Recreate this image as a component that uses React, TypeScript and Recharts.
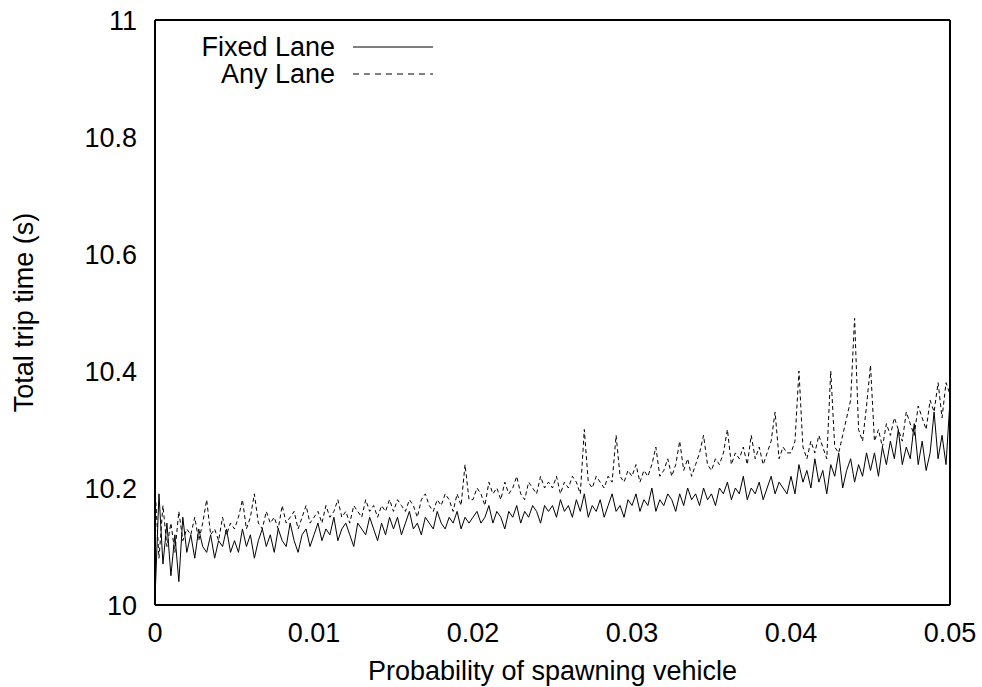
import React from 'react'
import { LineChart, Line, XAxis, YAxis } from 'recharts'

// sampling grid of the spawn probability
const xStep = 0.00025

const fixedLane = [
  10.01, 10.19, 10.07, 10.14, 10.05, 10.12, 10.04, 10.15, 10.09, 10.12, 10.08, 10.13, 10.10, 10.09, 10.12, 10.08, 10.11, 10.10, 10.13, 10.09,
  10.11, 10.09, 10.13, 10.10, 10.12, 10.08, 10.11, 10.13, 10.10, 10.12, 10.09, 10.13, 10.11, 10.10, 10.14, 10.11, 10.09, 10.12, 10.13, 10.10,
  10.12, 10.14, 10.11, 10.13, 10.12, 10.15, 10.11, 10.13, 10.14, 10.12, 10.10, 10.14, 10.13, 10.12, 10.15, 10.13, 10.11, 10.14, 10.12, 10.15,
  10.13, 10.15, 10.12, 10.14, 10.16, 10.13, 10.14, 10.12, 10.15, 10.14, 10.13, 10.16, 10.14, 10.13, 10.15, 10.14, 10.16, 10.13, 10.15, 10.14,
  10.15, 10.16, 10.14, 10.15, 10.17, 10.14, 10.16, 10.15, 10.13, 10.16, 10.15, 10.17, 10.14, 10.16, 10.15, 10.17, 10.16, 10.14, 10.17, 10.16,
  10.17, 10.15, 10.18, 10.16, 10.17, 10.15, 10.18, 10.16, 10.19, 10.15, 10.17, 10.16, 10.18, 10.15, 10.17, 10.19, 10.16, 10.17, 10.15, 10.18,
  10.17, 10.19, 10.16, 10.18, 10.17, 10.20, 10.16, 10.18, 10.17, 10.19, 10.18, 10.16, 10.19, 10.17, 10.20, 10.18, 10.19, 10.17, 10.20, 10.18,
  10.19, 10.17, 10.20, 10.19, 10.21, 10.18, 10.20, 10.19, 10.22, 10.18, 10.20, 10.19, 10.21, 10.18, 10.20, 10.22, 10.19, 10.21, 10.20, 10.19,
  10.22, 10.19, 10.24, 10.21, 10.23, 10.20, 10.25, 10.21, 10.23, 10.19, 10.24, 10.22, 10.26, 10.20, 10.23, 10.25, 10.21, 10.24, 10.22, 10.26,
  10.23, 10.26, 10.22, 10.27, 10.24, 10.28, 10.25, 10.30, 10.24, 10.27, 10.25, 10.31, 10.24, 10.28, 10.23, 10.26, 10.33, 10.25, 10.29, 10.24,
  10.35,
]

const anyLane = [
  10.20, 10.08, 10.17, 10.10, 10.14, 10.09, 10.16, 10.11, 10.13, 10.12, 10.15, 10.11, 10.14, 10.18, 10.12, 10.13, 10.11, 10.15, 10.12, 10.14,
  10.13, 10.15, 10.18, 10.13, 10.15, 10.19, 10.14, 10.13, 10.16, 10.14, 10.15, 10.13, 10.17, 10.14, 10.15, 10.16, 10.13, 10.15, 10.17, 10.14,
  10.15, 10.16, 10.14, 10.17, 10.15, 10.16, 10.18, 10.15, 10.16, 10.14, 10.17, 10.16, 10.15, 10.18, 10.16, 10.17, 10.15, 10.17, 10.16, 10.18,
  10.16, 10.18, 10.17, 10.16, 10.18, 10.17, 10.15, 10.18, 10.19, 10.17, 10.16, 10.18, 10.17, 10.19, 10.18, 10.16, 10.19, 10.17, 10.24, 10.18,
  10.18, 10.20, 10.19, 10.17, 10.21, 10.19, 10.20, 10.18, 10.21, 10.19, 10.20, 10.22, 10.19, 10.18, 10.21, 10.20, 10.19, 10.22, 10.20, 10.21,
  10.20, 10.22, 10.19, 10.21, 10.20, 10.22, 10.21, 10.19, 10.30, 10.21, 10.20, 10.22, 10.21, 10.20, 10.22, 10.21, 10.29, 10.22, 10.21, 10.23,
  10.22, 10.24, 10.21, 10.23, 10.22, 10.24, 10.27, 10.22, 10.23, 10.25, 10.22, 10.24, 10.28, 10.23, 10.25, 10.22, 10.24, 10.26, 10.29, 10.24,
  10.23, 10.25, 10.24, 10.26, 10.30, 10.24, 10.26, 10.25, 10.27, 10.24, 10.29, 10.25, 10.27, 10.24, 10.26, 10.28, 10.33, 10.25, 10.27, 10.26,
  10.26, 10.28, 10.40, 10.27, 10.25, 10.28, 10.26, 10.29, 10.27, 10.25, 10.40, 10.27, 10.26, 10.29, 10.32, 10.35, 10.49, 10.30, 10.28, 10.34,
  10.41, 10.28, 10.30, 10.27, 10.31, 10.29, 10.32, 10.30, 10.28, 10.33, 10.31, 10.29, 10.34, 10.32, 10.30, 10.35, 10.33, 10.38, 10.32, 10.38,
  10.36,
]

const xTicks = [0, 0.01, 0.02, 0.03, 0.04, 0.05]
const yTicks = [10, 10.2, 10.4, 10.6, 10.8, 11]

const data = fixedLane.map((v, i) => ({ p: i * xStep, fixed: v, any: anyLane[i] }))

const font = '"Liberation Sans", Arial, sans-serif'
const tickStyle = { fill: '#000', fontSize: 27, fontFamily: font }
const frame = { stroke: '#000', strokeWidth: 2 }

// gnuplot-style key in the top-left corner, drawn over the chart
function KeyOverlay() {
  return (
    <svg
      width={982}
      height={687}
      style={{ position: 'absolute', left: 0, top: 0, pointerEvents: 'none', fontFamily: font, fontSize: 27 }}
    >
      <text x={335} y={56} textAnchor="end" fill="#000">Fixed Lane</text>
      <line x1={353} x2={433} y1={47} y2={47} stroke="#000" strokeWidth={1} />
      <text x={335} y={83} textAnchor="end" fill="#000">Any Lane</text>
      <line x1={353} x2={433} y1={74} y2={74} stroke="#000" strokeWidth={1} strokeDasharray="6 5" />
    </svg>
  )
}

export default function App() {
  return (
    <div style={{ position: 'absolute', left: 0, top: 0, width: 982, height: 687 }}>
      <LineChart width={982} height={687} data={data} margin={{ top: 20, right: 32, bottom: 0, left: 0 }}>
        <XAxis
          xAxisId="b"
          dataKey="p"
          type="number"
          domain={[0, 0.05]}
          ticks={xTicks}
          tick={tickStyle}
          tickLine={false}
          axisLine={false}
          tickSize={0}
          tickMargin={18}
          height={82}
          label={{ value: 'Probability of spawning vehicle', position: 'insideBottom', offset: 7, style: tickStyle }}
        />
        <XAxis xAxisId="bm" dataKey="p" type="number" domain={[0, 0.05]} ticks={xTicks} mirror tick={false} tickSize={12} tickLine={{ stroke: '#000' }} axisLine={frame} />
        <XAxis xAxisId="tm" orientation="top" dataKey="p" type="number" domain={[0, 0.05]} ticks={xTicks} mirror tick={false} tickSize={12} tickLine={{ stroke: '#000' }} axisLine={frame} />
        <YAxis
          yAxisId="l"
          type="number"
          domain={[10, 11]}
          ticks={yTicks}
          tick={tickStyle}
          tickLine={false}
          axisLine={false}
          tickSize={0}
          tickMargin={18}
          width={155}
          label={{ value: 'Total trip time (s)', angle: -90, position: 'insideLeft', offset: 23, style: { ...tickStyle, textAnchor: 'middle' } }}
        />
        <YAxis yAxisId="lm" type="number" domain={[10, 11]} ticks={yTicks} mirror tick={false} tickSize={12} tickLine={{ stroke: '#000' }} axisLine={frame} />
        <YAxis yAxisId="rm" orientation="right" type="number" domain={[10, 11]} ticks={yTicks} mirror tick={false} tickSize={12} tickLine={{ stroke: '#000' }} axisLine={frame} />
        <Line xAxisId="b" yAxisId="l" dataKey="fixed" name="Fixed Lane" stroke="#000" strokeWidth={1} dot={false} isAnimationActive={false} />
        <Line xAxisId="b" yAxisId="l" dataKey="any" name="Any Lane" stroke="#000" strokeWidth={1} strokeDasharray="4 3" dot={false} isAnimationActive={false} />
      </LineChart>
      <KeyOverlay />
    </div>
  )
}
